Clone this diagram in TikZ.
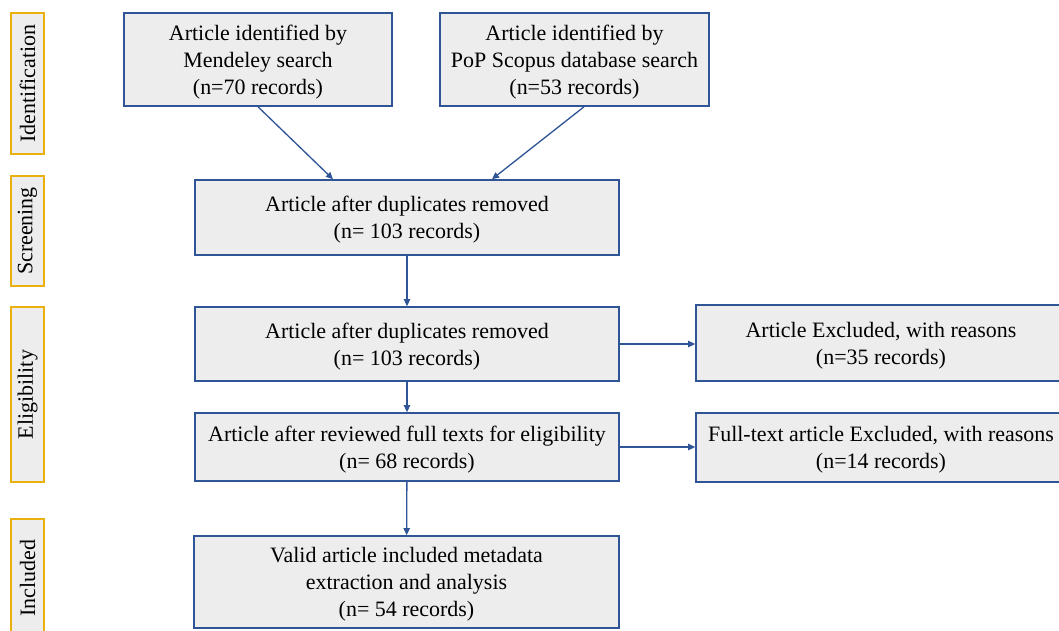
\documentclass[tikz,border=0pt]{standalone}
\usepackage{fontspec}
\setmainfont{Liberation Serif}
\usepackage{xcolor}
\usepackage{tikz}
\usetikzlibrary{shapes,arrows.meta,positioning,calc}
\definecolor{boxline}{HTML}{2F5597}
\definecolor{boxfill}{HTML}{EDEDED}
\definecolor{tabline}{HTML}{EAB00E}

\begin{document}
\begin{tikzpicture}[
  stage/.style={draw=tabline, fill=boxfill, rotate=90, line width=1pt, inner sep=0pt, align=center, font=\fontsize{12.5}{15.3}\selectfont},
  record/.style={draw=boxline, fill=boxfill, line width=0.9pt, inner sep=0pt, align=center, font=\fontsize{12.5}{15.3}\selectfont,
    text depth=-2.8pt},
  flow/.style={boxline, line width=0.75pt, -{Triangle[length=4pt,width=3.6pt]}}
]
\useasboundingbox (0,0) rectangle (21.18,-12.6);

% ---- Stage tabs ----
\node[stage, minimum width=2.82cm, minimum height=0.66cm] (tabid) at (0.55,-1.67) {Identification};
\node[stage, minimum width=2.2cm, minimum height=0.66cm] (tabscr) at (0.55,-4.62) {Screening};
\node[stage, minimum width=3.5cm, minimum height=0.66cm] (tabelig) at (0.55,-7.89) {Eligibility};
\node[stage, minimum width=2.36cm, minimum height=0.66cm] (tabincl) at (0.55,-11.56) {Included};

% ---- Identification ----
\node[record, minimum width=5.36cm, minimum height=1.86cm] (mendeley) at (5.16,-1.19) {Article identified by\\Mendeley search\\(n=70 records)};
\node[record, minimum width=5.38cm, minimum height=1.86cm] (scopus) at (11.49,-1.19) {Article identified by\\PoP Scopus database search\\(n=53 records)};

% ---- Screening ----
\node[record, minimum width=8.48cm, minimum height=1.5cm] (dedup) at (8.14,-4.35) {Article after duplicates removed\\(n= 103 records)};

\draw[flow] (mendeley.south) -- ([xshift=-1.48cm]dedup.north);
\draw[flow] ([xshift=0.19cm]scopus.south) -- ([xshift=1.7cm]dedup.north);

% ---- Eligibility ----
\node[record, minimum width=8.48cm, minimum height=1.48cm] (eligone) at (8.14,-6.88) {Article after duplicates removed\\(n= 103 records)};
\node[record, minimum width=8.48cm, minimum height=1.36cm] (fulltext) at (8.14,-8.94) {Article after reviewed full texts for eligibility\\(n= 68 records)};
\node[record, minimum width=7.4cm, minimum height=1.52cm] (exclone) at (17.62,-6.86) {Article Excluded, with reasons\\(n=35 records)};
\node[record, minimum width=7.4cm, minimum height=1.38cm] (excltwo) at (17.62,-8.95) {Full-text article Excluded, with reasons\\(n=14 records)};

\draw[flow] (dedup) -- (eligone);
\draw[flow] (eligone) -- (fulltext);
\draw[flow] (eligone.east) -- (eligone.east -| exclone.west);
\draw[flow] (fulltext.east) -- (fulltext.east -| excltwo.west);

% ---- Included ----
\node[record, minimum width=8.5cm, minimum height=1.84cm] (valid) at (8.13,-11.64) {Valid article included metadata\\extraction and analysis\\(n= 54 records)};

\draw[flow] (fulltext) -- (valid);

\end{tikzpicture}
\end{document}
